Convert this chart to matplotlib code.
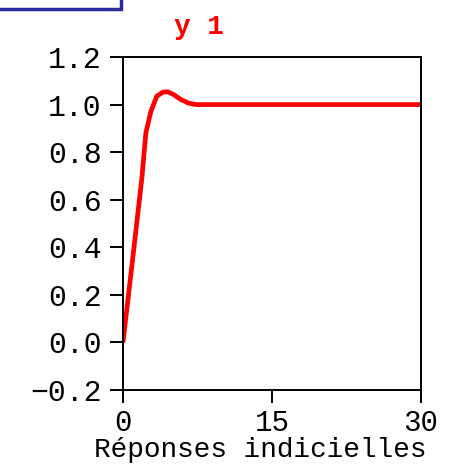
import matplotlib
matplotlib.use('Agg')
import matplotlib.pyplot as plt
from matplotlib.patches import Rectangle

# step response samples
t = [0, 1.0, 1.9, 2.3, 2.8, 3.4, 4.0, 4.5, 5.1, 5.8, 6.6, 7.4, 30]
y = [0, 0.36, 0.69, 0.88, 0.97, 1.035, 1.052, 1.054, 1.042, 1.022, 1.006, 1.0, 1.0]

xticks = [0, 15, 30]
yticks = [-0.2, 0.0, 0.2, 0.4, 0.6, 0.8, 1.0, 1.2]

plt.rcParams['font.family'] = ['Liberation Mono', 'DejaVu Sans Mono']

fig = plt.figure(figsize=(4.5, 4.65), dpi=100)
ax = fig.add_axes([0.2733, 0.1613, 0.6622, 0.7161])

ax.plot(t, y, color='#ff0000', lw=3.4, solid_capstyle='butt')
ax.set_xlim(0, 30)
ax.set_ylim(-0.2, 1.2)
ax.set_xticks(xticks)
ax.set_yticks(yticks)
ax.set_yticklabels(['\u22120.2' if v < 0 else '%.1f' % v for v in yticks])
ax.tick_params(direction='out', length=9.5, width=1.4, labelsize=21.5, pad=6)
ax.tick_params(axis='x', labelsize=21, pad=4)
for s in ax.spines.values():
    s.set_linewidth(1.4)

fig.text(0.443, 0.942, 'y 1', color='#ff0000', fontsize=20, fontweight='bold',
         ha='center', va='center')
fig.text(0.578, 0.017, 'Réponses indicielles', fontsize=20, ha='center', va='baseline')

# blue frame in the corner
fig.patches.append(Rectangle((-0.01, 0.981), 0.279, 0.05, transform=fig.transFigure,
                             fill=False, edgecolor='#2b2b9c', lw=2.5))

fig.savefig('out.png', dpi=100)
